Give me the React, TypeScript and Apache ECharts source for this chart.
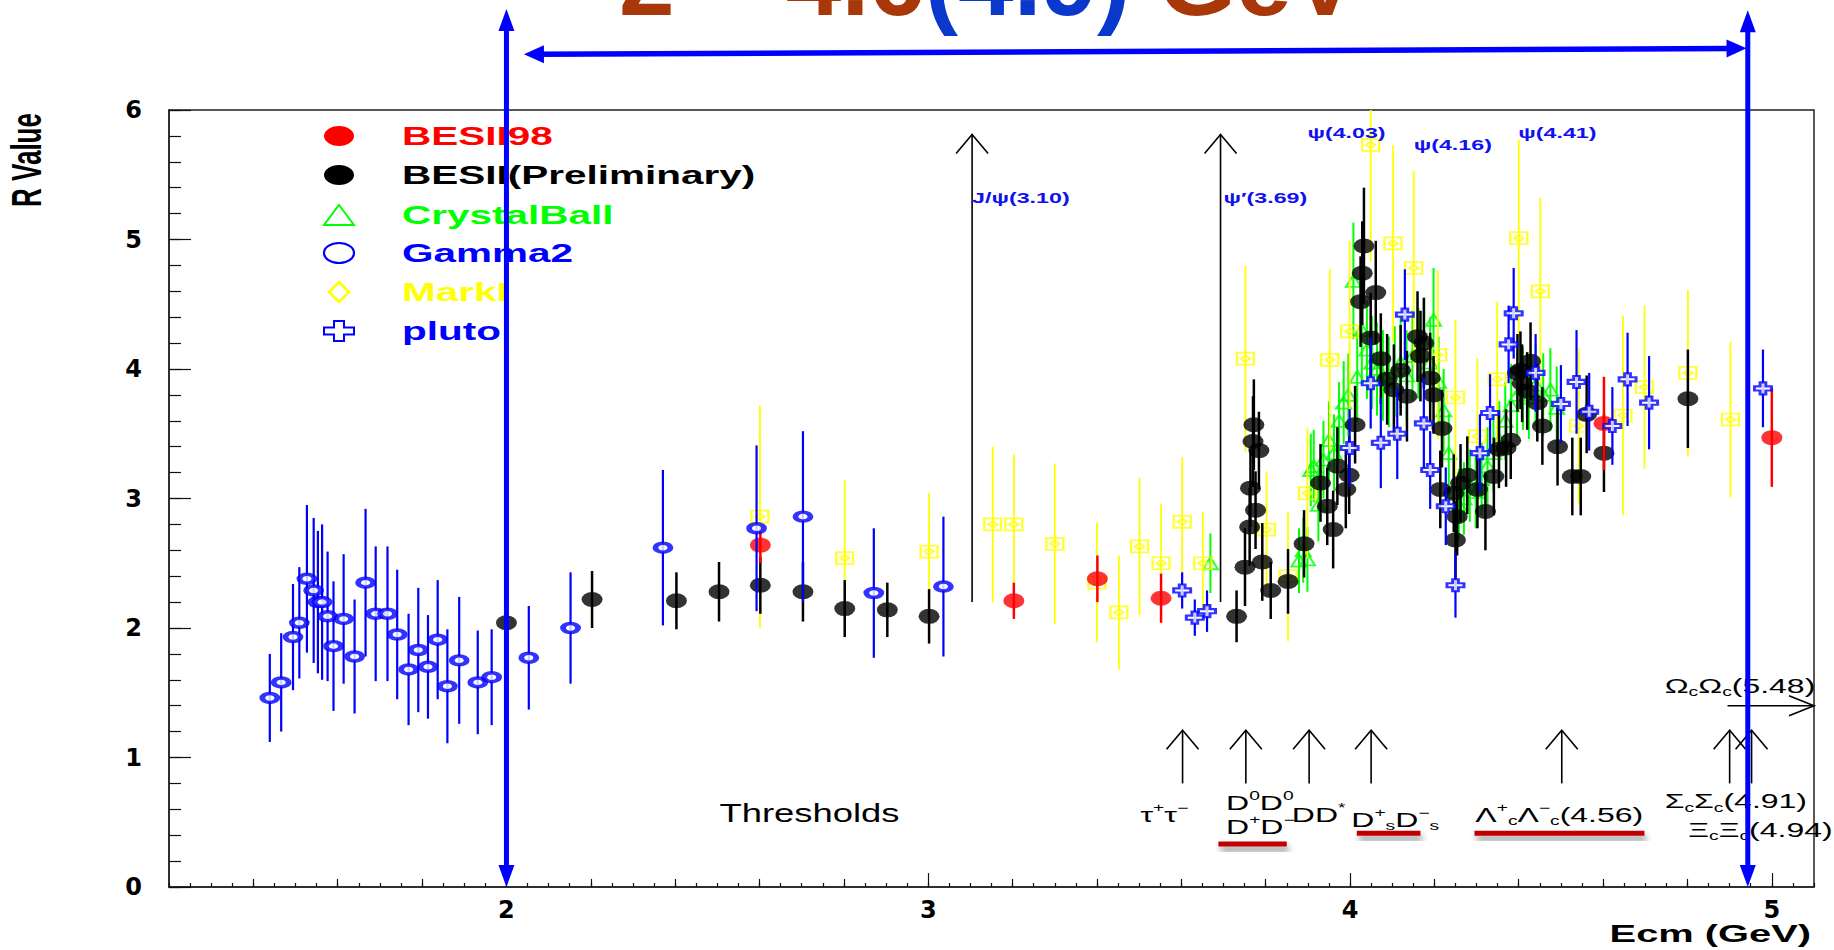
import React, { useEffect, useRef } from 'react';
import * as echarts from 'echarts';

// ---------------- axis / tick values ----------------
const X_MIN = 1.2;
const X_MAX = 5.1;
const Y_MIN = 0;
const Y_MAX = 6;
const X_MAJOR = [2, 3, 4, 5];
const X_MED = [1.4, 1.6, 1.8, 2.2, 2.4, 2.6, 2.8, 3.2, 3.4, 3.6, 3.8, 4.2, 4.4, 4.6, 4.8];

// ---------------- data (Ecm in GeV, R value, error) ----------------
// BESII98 (red filled)
const besii98E = [2.602, 3.203, 3.401, 3.552, 4.602, 5.0];
const besii98R = [2.64, 2.21, 2.38, 2.23, 3.58, 3.47];
const besii98Err = [0.14, 0.14, 0.18, 0.19, 0.36, 0.38];

// BESII (Preliminary) (black filled)
const besiiE = [2.0, 2.203, 2.403, 2.504, 2.602, 2.703, 2.802, 2.903, 3.002, 3.731, 3.751, 3.762, 3.764, 3.77, 3.772, 3.776, 3.784, 3.792, 3.812, 3.853, 3.891, 3.93, 3.946, 3.96, 3.97, 3.99, 3.998, 4.012, 4.025, 4.029, 4.033, 4.049, 4.061, 4.073, 4.088, 4.104, 4.12, 4.135, 4.16, 4.167, 4.175, 4.19, 4.198, 4.214, 4.218, 4.246, 4.25, 4.254, 4.262, 4.278, 4.302, 4.321, 4.341, 4.353, 4.37, 4.381, 4.397, 4.404, 4.408, 4.42, 4.428, 4.444, 4.456, 4.492, 4.527, 4.547, 4.561, 4.602, 4.801];
const besiiR = [2.04, 2.22, 2.21, 2.28, 2.33, 2.28, 2.15, 2.14, 2.09, 2.09, 2.47, 2.78, 3.08, 3.44, 3.57, 2.91, 3.37, 2.51, 2.29, 2.36, 2.65, 3.12, 2.94, 2.76, 3.25, 3.07, 3.18, 3.57, 4.52, 4.74, 4.95, 4.24, 4.59, 4.08, 3.92, 3.84, 3.99, 3.79, 4.25, 4.1, 4.2, 3.93, 3.8, 3.07, 3.54, 3.04, 2.68, 2.86, 3.12, 3.18, 3.07, 2.9, 3.17, 3.38, 3.39, 3.45, 3.97, 3.99, 3.89, 3.83, 4.06, 3.74, 3.56, 3.4, 3.17, 3.17, 3.65, 3.35, 3.77];
const besiiErr = [0.2, 0.22, 0.22, 0.23, 0.22, 0.23, 0.22, 0.21, 0.21, 0.2, 0.3, 0.3, 0.3, 0.35, 0.35, 0.3, 0.3, 0.3, 0.22, 0.25, 0.26, 0.3, 0.3, 0.3, 0.3, 0.3, 0.3, 0.3, 0.35, 0.4, 0.45, 0.35, 0.4, 0.35, 0.35, 0.35, 0.35, 0.35, 0.35, 0.35, 0.35, 0.35, 0.3, 0.3, 0.3, 0.3, 0.3, 0.3, 0.3, 0.3, 0.3, 0.3, 0.3, 0.3, 0.3, 0.3, 0.3, 0.3, 0.3, 0.3, 0.3, 0.3, 0.3, 0.3, 0.3, 0.3, 0.3, 0.3, 0.38];

// Crystal Ball (green open triangles)
const cbE = [3.669, 3.879, 3.889, 3.899, 3.907, 3.914, 3.925, 3.937, 3.95, 3.962, 3.974, 3.985, 3.996, 4.008, 4.017, 4.028, 4.04, 4.052, 4.064, 4.078, 4.092, 4.106, 4.12, 4.134, 4.148, 4.162, 4.176, 4.19, 4.198, 4.21, 4.222, 4.234, 4.246, 4.258, 4.27, 4.284, 4.298, 4.312, 4.326, 4.34, 4.354, 4.368, 4.382, 4.396, 4.41, 4.424, 4.44, 4.458, 4.475, 4.49];
const cbR = [2.5, 2.52, 2.6, 2.53, 3.22, 3.25, 2.95, 3.3, 3.45, 3.35, 3.6, 3.74, 3.8, 4.68, 3.94, 4.3, 4.15, 4.05, 4.0, 3.95, 3.9, 3.98, 4.05, 3.95, 4.1, 4.12, 4.2, 4.05, 4.38, 3.9, 3.68, 3.35, 3.05, 2.95, 3.0, 3.1, 3.05, 3.15, 3.25, 3.35, 3.45, 3.6, 3.72, 3.8, 3.85, 3.78, 3.88, 3.8, 3.84, 3.7];
const cbErr = [0.23, 0.25, 0.25, 0.25, 0.28, 0.28, 0.28, 0.3, 0.3, 0.3, 0.3, 0.32, 0.32, 0.45, 0.35, 0.4, 0.38, 0.36, 0.36, 0.35, 0.35, 0.35, 0.35, 0.35, 0.35, 0.35, 0.35, 0.35, 0.4, 0.35, 0.32, 0.3, 0.3, 0.28, 0.28, 0.28, 0.28, 0.28, 0.3, 0.3, 0.3, 0.3, 0.32, 0.32, 0.32, 0.32, 0.32, 0.32, 0.32, 0.32];

// Gamma2 (blue open circles)
const g2E = [1.439, 1.466, 1.494, 1.509, 1.527, 1.543, 1.553, 1.563, 1.576, 1.59, 1.614, 1.64, 1.666, 1.69, 1.718, 1.741, 1.768, 1.791, 1.814, 1.837, 1.86, 1.888, 1.932, 1.965, 2.053, 2.152, 2.371, 2.593, 2.703, 2.871, 3.036];
const g2R = [1.46, 1.58, 1.93, 2.04, 2.38, 2.29, 2.2, 2.2, 2.09, 1.86, 2.07, 1.78, 2.35, 2.11, 2.11, 1.95, 1.68, 1.83, 1.7, 1.91, 1.55, 1.75, 1.58, 1.62, 1.77, 2.0, 2.62, 2.77, 2.86, 2.27, 2.32];
const g2Err = [0.34, 0.38, 0.41, 0.43, 0.57, 0.56, 0.55, 0.6, 0.5, 0.5, 0.5, 0.44, 0.57, 0.52, 0.52, 0.5, 0.43, 0.48, 0.4, 0.46, 0.44, 0.49, 0.4, 0.37, 0.4, 0.43, 0.6, 0.64, 0.66, 0.5, 0.54];

// MarkI (yellow box/diamond)
const mkE = [2.601, 2.802, 3.002, 3.153, 3.203, 3.3, 3.4, 3.452, 3.501, 3.552, 3.602, 3.651, 3.752, 3.802, 3.853, 3.899, 3.952, 3.999, 4.049, 4.102, 4.151, 4.208, 4.25, 4.302, 4.349, 4.4, 4.451, 4.542, 4.647, 4.698, 4.801, 4.902];
const mkR = [2.86, 2.54, 2.59, 2.8, 2.8, 2.65, 2.35, 2.12, 2.63, 2.5, 2.82, 2.5, 4.08, 2.76, 2.4, 3.04, 4.07, 4.29, 5.73, 4.97, 4.78, 4.11, 3.78, 3.48, 3.92, 5.01, 4.6, 3.56, 3.64, 3.86, 3.97, 3.61];
const mkErr = [0.86, 0.6, 0.45, 0.6, 0.54, 0.62, 0.46, 0.44, 0.53, 0.46, 0.5, 0.4, 0.72, 0.45, 0.5, 0.5, 0.7, 0.7, 0.9, 0.76, 0.75, 0.65, 0.6, 0.6, 0.6, 0.76, 0.72, 0.6, 0.77, 0.63, 0.64, 0.6];

// pluto (blue open crosses)
const plE = [3.602, 3.632, 3.661, 3.999, 4.049, 4.073, 4.112, 4.13, 4.175, 4.19, 4.227, 4.25, 4.308, 4.332, 4.376, 4.388, 4.44, 4.5, 4.537, 4.567, 4.622, 4.658, 4.709, 4.979];
const plR = [2.29, 2.08, 2.13, 3.39, 3.89, 3.43, 3.5, 4.42, 3.58, 3.22, 2.94, 2.33, 3.35, 3.66, 4.19, 4.43, 3.97, 3.73, 3.9, 3.67, 3.56, 3.92, 3.74, 3.85];
const plErr = [0.14, 0.14, 0.16, 0.3, 0.35, 0.35, 0.35, 0.35, 0.35, 0.3, 0.3, 0.25, 0.3, 0.3, 0.3, 0.35, 0.3, 0.3, 0.4, 0.3, 0.3, 0.36, 0.36, 0.3];

// Resonance and threshold annotations
const resonanceArrows = [3.104, 3.693];
const thresholdArrows = [3.603, 3.753, 3.903, 4.05, 4.502, 4.9, 4.952];

const FONT = '"Liberation Sans", Arial, Helvetica, sans-serif';
const BLUE = '#0000ff';

// symbols
const ELLIPSE = 'path://M0,5A5,5 0 1,1 10,5A5,5 0 1,1 0,5Z';
const BOXDIAMOND = 'path://M0,0L10,0L10,10L0,10ZM5,2.3L7.7,5L5,7.7L2.3,5Z';
const CROSS = 'path://M3.3,0L6.7,0L6.7,3.3L10,3.3L10,6.7L6.7,6.7L6.7,10L3.3,10L3.3,6.7L0,6.7L0,3.3L3.3,3.3Z';
const TRI = 'path://M5,0L10,10L0,10Z';

let _ctx: CanvasRenderingContext2D | null = null;
function measure(text: string, font: string): number {
  if (!_ctx) _ctx = document.createElement('canvas').getContext('2d');
  if (!_ctx) return text.length * 10;
  _ctx.font = font;
  return _ctx.measureText(text).width;
}

type Part = [string, 'n' | 'sup' | 'sub'];
function richLabel(parts: Part[], x: number, y: number, size: number, color: string, sx: number, weight = 'normal', align = 'left') {
  const els: any[] = [];
  let total = 0;
  const fonts = parts.map(([t, k]) => {
    const fs = k === 'n' ? size : Math.round(size * 0.62);
    const font = `${weight} ${fs}px ${FONT}`;
    const w = measure(t, font) * sx;
    total += w;
    return { font, w, dy: k === 'sup' ? -size * 0.36 : k === 'sub' ? size * 0.3 : 0 };
  });
  let cx = align === 'right' ? x - total : x;
  parts.forEach(([t], i) => {
    const f = fonts[i];
    els.push({
      type: 'text',
      x: cx,
      y: y + f.dy,
      scaleX: sx,
      silent: true,
      style: { text: t, font: f.font, fill: color, align: 'left', verticalAlign: 'middle', textAlign: 'left', textVerticalAlign: 'middle' },
    });
    cx += f.w;
  });
  return els;
}

function errSeries(E: number[], R: number[], Err: number[], color: string, width: number, z: number) {
  return {
    type: 'custom',
    z,
    clip: true,
    silent: true,
    data: E.map((e, i) => [e, R[i] - Err[i], R[i] + Err[i]]),
    encode: { x: 0, y: [1, 2] },
    renderItem: (_p: any, api: any) => {
      const a = api.coord([api.value(0), api.value(1)]);
      const b = api.coord([api.value(0), api.value(2)]);
      return {
        type: 'line',
        shape: { x1: a[0], y1: a[1], x2: b[0], y2: b[1] },
        style: { stroke: color, lineWidth: width },
      };
    },
  };
}

function markSeries(name: string, E: number[], R: number[], symbol: string, size: number[], itemStyle: any, z: number) {
  return {
    type: 'scatter',
    name,
    z,
    silent: true,
    clip: true,
    symbol,
    symbolSize: size,
    itemStyle,
    emphasis: { disabled: true },
    data: E.map((e, i) => [e, R[i]]),
  };
}

function annotationSeries() {
  return {
    type: 'custom',
    z: 40,
    clip: false,
    silent: true,
    data: [[3, 3]],
    encode: { x: 0, y: 1 },
    renderItem: (_p: any, api: any) => {
      const P = (e: number, r: number) => api.coord([e, r]);
      const ch: any[] = [];
      const openUp = (e: number, r0: number, r1: number) => {
        const a = P(e, r0);
        const b = P(e, r1);
        ch.push({ type: 'line', shape: { x1: a[0], y1: a[1], x2: b[0], y2: b[1] }, style: { stroke: '#000', lineWidth: 1.6 } });
        ch.push({ type: 'polyline', shape: { points: [[b[0] - 16, b[1] + 19], [b[0], b[1]], [b[0] + 16, b[1] + 19]] }, style: { stroke: '#000', lineWidth: 1.6, fill: null } });
      };
      resonanceArrows.forEach((e) => openUp(e, 2.2, 5.81));
      thresholdArrows.forEach((e) => openUp(e, 0.8, 1.21));
      // Omega_c arrow to the right
      {
        const a = P(4.895, 1.4);
        const b = P(X_MAX, 1.4);
        ch.push({ type: 'line', shape: { x1: a[0], y1: a[1], x2: b[0], y2: b[1] }, style: { stroke: '#000', lineWidth: 1.6 } });
        ch.push({ type: 'polyline', shape: { points: [[b[0] - 25, b[1] - 10], [b[0], b[1]], [b[0] - 25, b[1] + 10]] }, style: { stroke: '#000', lineWidth: 1.6, fill: null } });
      }
      // resonance labels
      const blueTxt = '#1010f0';
      const lab = (t: string, e: number, r: number) => {
        const p = P(e, r);
        ch.push(...richLabel([[t, 'n']], p[0], p[1], 15, blueTxt, 1.55, 'bold'));
      };
      lab('J/ψ(3.10)', 3.104, 5.32);
      lab('ψ′(3.69)', 3.7, 5.32);
      lab('ψ(4.03)', 3.899, 5.825);
      lab('ψ(4.16)', 4.151, 5.73);
      lab('ψ(4.41)', 4.399, 5.825);
      // thresholds
      const th = (parts: Part[], e: number, r: number) => {
        const p = P(e, r);
        ch.push(...richLabel(parts, p[0], p[1], 20, '#000', 1.6));
      };
      {
        const p = P(2.505, 0.571);
        ch.push(...richLabel([['Thresholds', 'n']], p[0], p[1], 26, '#000', 1.4));
      }
      th([['τ', 'n'], ['+', 'sup'], ['τ', 'n'], ['−', 'sup']], 3.503, 0.556);
      th([['D', 'n'], ['0', 'sup'], ['D', 'n'], ['0', 'sup']], 3.706, 0.65);
      th([['D', 'n'], ['+', 'sup'], ['D', 'n'], ['−', 'sup']], 3.706, 0.46);
      th([['DD', 'n'], ['*', 'sup']], 3.862, 0.556);
      th([['D', 'n'], ['+', 'sup'], ['s', 'sub'], ['D', 'n'], ['−', 'sup'], ['s', 'sub']], 4.003, 0.517);
      th([['Λ', 'n'], ['+', 'sup'], ['c', 'sub'], ['Λ', 'n'], ['−', 'sup'], ['c', 'sub'], ['(4.56)', 'n']], 4.297, 0.556);
      th([['Σ', 'n'], ['c', 'sub'], ['Σ', 'n'], ['c', 'sub'], ['(4.91)', 'n']], 4.746, 0.66);
      th([['Ξ', 'n'], ['c', 'sub'], ['Ξ', 'n'], ['c', 'sub'], ['(4.94)', 'n']], 4.802, 0.44);
      th([['Ω', 'n'], ['c', 'sub'], ['Ω', 'n'], ['c', 'sub'], ['(5.48)', 'n']], 4.746, 1.55);
      // red underlines
      const under = (e0: number, e1: number, r: number) => {
        const a = P(e0, r);
        const b = P(e1, r);
        ch.push({
          type: 'rect',
          shape: { x: a[0], y: a[1] - 2.5, width: b[0] - a[0], height: 5 },
          style: { fill: '#c00000', shadowBlur: 6, shadowOffsetX: 2, shadowOffsetY: 5, shadowColor: 'rgba(0,0,0,0.45)' },
        });
      };
      under(3.688, 3.85, 0.332);
      under(4.016, 4.167, 0.415);
      under(4.295, 4.698, 0.415);
      // blue overlay arrows
      const vDouble = (e: number, rTop: number, rBot: number) => {
        const t = P(e, rTop);
        const b = P(e, rBot);
        ch.push({ type: 'line', shape: { x1: t[0], y1: t[1] + 16, x2: b[0], y2: b[1] - 16 }, style: { stroke: BLUE, lineWidth: 5 } });
        ch.push({ type: 'polygon', shape: { points: [[t[0], t[1]], [t[0] - 8, t[1] + 22], [t[0] + 8, t[1] + 22]] }, style: { fill: BLUE } });
        ch.push({ type: 'polygon', shape: { points: [[b[0], b[1]], [b[0] - 8, b[1] - 22], [b[0] + 8, b[1] - 22]] }, style: { fill: BLUE } });
      };
      vDouble(2.0, 6.78, 0);
      vDouble(4.943, 6.77, 0);
      {
        const a = P(2.0415, 6.43);
        const b = P(4.94, 6.476);
        const dx = b[0] - a[0];
        const dy = b[1] - a[1];
        const L = Math.sqrt(dx * dx + dy * dy);
        const ux = dx / L, uy = dy / L;
        const nx = -uy, ny = ux;
        const hl = 20, hw = 9;
        ch.push({ type: 'line', shape: { x1: a[0] + ux * 14, y1: a[1] + uy * 14, x2: b[0] - ux * 14, y2: b[1] - uy * 14 }, style: { stroke: BLUE, lineWidth: 5.5 } });
        ch.push({ type: 'polygon', shape: { points: [[a[0], a[1]], [a[0] + ux * hl + nx * hw, a[1] + uy * hl + ny * hw], [a[0] + ux * hl - nx * hw, a[1] + uy * hl - ny * hw]] }, style: { fill: BLUE } });
        ch.push({ type: 'polygon', shape: { points: [[b[0], b[1]], [b[0] - ux * hl + nx * hw, b[1] - uy * hl + ny * hw], [b[0] - ux * hl - nx * hw, b[1] - uy * hl - ny * hw]] }, style: { fill: BLUE } });
      }
      return { type: 'group', children: ch };
    },
  };
}

function legendGraphics() {
  const rows = [136, 175, 215, 253, 292, 331];
  const mx = 339;
  const tx = 402;
  const names = ['BESII98', 'BESII(Preliminary)', 'CrystalBall', 'Gamma2', 'MarkI', 'pluto'];
  const colors = ['#ff0000', '#000000', '#00ff00', '#0000ff', '#ffff00', '#0000ff'];
  const els: any[] = [];
  els.push({ type: 'ellipse', shape: { cx: mx, cy: rows[0], rx: 15, ry: 10 }, style: { fill: '#ff0000' } });
  els.push({ type: 'ellipse', shape: { cx: mx, cy: rows[1], rx: 15, ry: 10 }, style: { fill: '#000000' } });
  els.push({ type: 'polygon', shape: { points: [[mx, rows[2] - 10], [mx + 15, rows[2] + 10], [mx - 15, rows[2] + 10]] }, style: { fill: 'none', stroke: '#00ff00', lineWidth: 2 } });
  els.push({ type: 'ellipse', shape: { cx: mx, cy: rows[3], rx: 15, ry: 10 }, style: { fill: 'none', stroke: '#0000ff', lineWidth: 2.2 } });
  els.push({ type: 'polygon', shape: { points: [[mx, rows[4] - 10], [mx + 10, rows[4]], [mx, rows[4] + 10], [mx - 10, rows[4]]] }, style: { fill: 'none', stroke: '#ffff00', lineWidth: 2.5 } });
  {
    const cy = rows[5];
    const a = 5, b = 15, c = 3.5, d = 10;
    els.push({
      type: 'polygon',
      shape: { points: [[mx - a, cy - d], [mx + a, cy - d], [mx + a, cy - c], [mx + b, cy - c], [mx + b, cy + c], [mx + a, cy + c], [mx + a, cy + d], [mx - a, cy + d], [mx - a, cy + c], [mx - b, cy + c], [mx - b, cy - c], [mx - a, cy - c]] },
      style: { fill: 'none', stroke: '#0000ff', lineWidth: 2 },
    });
  }
  names.forEach((n, i) => {
    els.push({
      type: 'text',
      x: tx,
      y: rows[i],
      scaleX: 1.62,
      silent: true,
      style: { text: n, font: `bold 25px ${FONT}`, fill: colors[i], align: 'left', verticalAlign: 'middle', textAlign: 'left', textVerticalAlign: 'middle' },
    });
  });
  return els;
}

function titleGraphics() {
  const size = 100;
  const parts: [string, string][] = [['2 – 4.6', '#a8380a'], ['(4.9)', '#0a38cc'], [' GeV', '#a8380a']];
  const els: any[] = [];
  let x = 619;
  parts.forEach(([t, c]) => {
    const font = `bold ${size}px ${FONT}`;
    els.push({
      type: 'text',
      x,
      y: -20,
      silent: true,
      style: { text: t, font, fill: c, align: 'left', verticalAlign: 'middle', textAlign: 'left', textVerticalAlign: 'middle' },
    });
    x += measure(t, font);
  });
  return els;
}

function buildOption() {
  const tickLine = { color: '#111', width: 1.2 };
  return {
    animation: false,
    backgroundColor: '#ffffff',
    grid: { left: 169, right: 20, top: 110, bottom: 63, show: true, borderColor: '#222', borderWidth: 1.5, backgroundColor: 'transparent' },
    xAxis: [
      {
        type: 'value', min: X_MIN, max: X_MAX, interval: 0.05, position: 'bottom',
        axisLine: { show: true, onZero: false, lineStyle: { color: '#222', width: 1.5 } },
        axisTick: { show: true, inside: true, length: 4, lineStyle: tickLine },
        axisLabel: { show: false }, splitLine: { show: false },
      },
      {
        type: 'value', min: X_MIN, max: X_MAX, position: 'bottom',
        axisLine: { show: false, onZero: false },
        axisTick: { show: true, inside: true, length: 8, customValues: X_MED, lineStyle: tickLine },
        axisLabel: { show: false }, splitLine: { show: false },
      },
      {
        type: 'value', min: X_MIN, max: X_MAX, position: 'bottom',
        axisLine: { show: false, onZero: false },
        axisTick: { show: true, inside: true, length: 14, customValues: X_MAJOR, lineStyle: tickLine },
        axisLabel: { show: true, customValues: X_MAJOR, fontSize: 24, fontWeight: 'bold', fontFamily: '"DejaVu Sans", sans-serif', color: '#000', margin: 11 },
        splitLine: { show: false },
      },
    ],
    yAxis: [
      {
        type: 'value', min: Y_MIN, max: Y_MAX, interval: 0.2, position: 'left',
        axisLine: { show: true, onZero: false, lineStyle: { color: '#222', width: 1.5 } },
        axisTick: { show: true, inside: true, length: 12, lineStyle: tickLine },
        axisLabel: { show: false }, splitLine: { show: false },
      },
      {
        type: 'value', min: Y_MIN, max: Y_MAX, interval: 1, position: 'left',
        axisLine: { show: false, onZero: false },
        axisTick: { show: true, inside: true, length: 22, lineStyle: tickLine },
        axisLabel: { show: true, fontSize: 24, fontWeight: 'bold', fontFamily: '"DejaVu Sans", sans-serif', color: '#000', margin: 27 },
        splitLine: { show: false },
      },
    ],
    series: [
      errSeries(cbE, cbR, cbErr, '#00ff00', 2, 2),
      markSeries('CrystalBall', cbE, cbR, TRI, [15, 12], { color: 'rgba(0,0,0,0)', borderColor: '#00ff00', borderWidth: 2 }, 3),
      errSeries(mkE, mkR, mkErr, '#ffff00', 1.8, 4),
      markSeries('MarkI', mkE, mkR, BOXDIAMOND, [17, 12], { color: 'rgba(0,0,0,0)', borderColor: '#ffff00', borderWidth: 2 }, 5),
      errSeries(besiiE, besiiR, besiiErr, '#000000', 2.5, 6),
      markSeries('BESII(Preliminary)', besiiE, besiiR, ELLIPSE, [21, 15], { color: '#000000' }, 7),
      errSeries(besii98E, besii98R, besii98Err, '#ff0000', 2.5, 8),
      markSeries('BESII98', besii98E, besii98R, ELLIPSE, [21, 15], { color: '#ff0000' }, 9),
      errSeries(g2E, g2R, g2Err, '#0000ff', 2.2, 10),
      markSeries('Gamma2', g2E, g2R, ELLIPSE, [15, 9], { color: '#ffffff', borderColor: '#0000ff', borderWidth: 4.5 }, 11),
      errSeries(plE, plR, plErr, '#0000ff', 2.2, 12),
      markSeries('pluto', plE, plR, CROSS, [17, 12], { color: '#ffffff', borderColor: '#0000ff', borderWidth: 2.5 }, 13),
      annotationSeries(),
    ],
    graphic: [
      ...titleGraphics(),
      ...legendGraphics(),
      {
        type: 'text', x: 27, y: 160, rotation: Math.PI / 2, scaleY: 1.6, silent: true,
        style: { text: 'R Value', font: `bold 26px ${FONT}`, fill: '#000', align: 'center', verticalAlign: 'middle', textAlign: 'center', textVerticalAlign: 'middle' },
      },
      {
        type: 'text', x: 1811, y: 934, scaleX: 1.66, silent: true,
        style: { text: 'Ecm (GeV)', font: `bold 24px ${FONT}`, fill: '#000', align: 'right', verticalAlign: 'middle', textAlign: 'right', textVerticalAlign: 'middle' },
      },
    ],
  };
}

export default function App() {
  const ref = useRef<HTMLDivElement>(null);
  useEffect(() => {
    if (!ref.current) return;
    document.body.style.margin = '0';
    const chart = echarts.init(ref.current, null, { renderer: 'svg' });
    chart.setOption(buildOption() as any);
    return () => {
      chart.dispose();
    };
  }, []);
  return (
    <div
      ref={ref}
      style={{ position: 'fixed', left: 0, top: 0, width: 1834, height: 950, background: '#fff' }}
    />
  );
}
